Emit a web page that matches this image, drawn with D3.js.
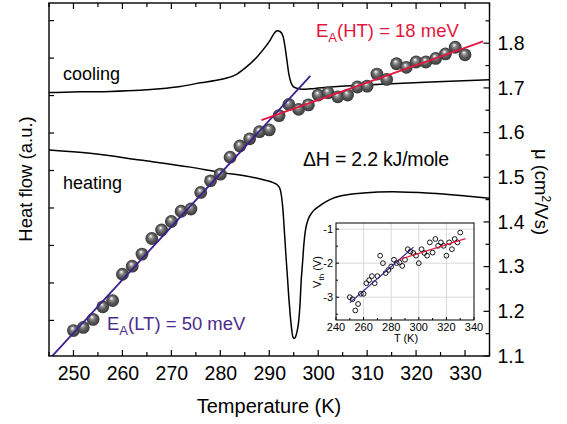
<!DOCTYPE html>
<html><head><meta charset="utf-8">
<script src="https://cdn.jsdelivr.net/npm/d3@7/dist/d3.min.js"></script>
<style>body{margin:0;background:#fff}svg{display:block;font-family:"Liberation Sans",Arial,sans-serif}</style>
</head><body>
<script>
// ---- data ----
const muT = [250,252,254,256,258,260,262,264,266,268,270,272,274,276,278,280,282,284,286,288,290,292,294,296,298,300,302,304,306,308,310,312,314,316,318,320,322,324,326,328,330];
const muVal = [1.157,1.164,1.182,1.210,1.224,1.283,1.301,1.328,1.363,1.382,1.401,1.424,1.429,1.466,1.492,1.507,1.545,1.570,1.586,1.602,1.606,1.638,1.663,1.652,1.662,1.684,1.689,1.680,1.684,1.702,1.704,1.731,1.719,1.754,1.746,1.758,1.758,1.766,1.776,1.791,1.774];
const ltFit = [[245.5,1.098],[298.4,1.727]];
const htFit = [[288.4,1.628],[333.7,1.804]];
const coolT = [245,251.4,257.5,263.6,267.7,271.8,275.9,280,283.1,285.1,287.5,289.2,290.2,291.0,291.6,292.2,292.8,293.2,293.6,294.0,294.4,294.9,295.8,296.8,298.4,302.5,312.7,323,335];
const coolHF = [7.08,7.10,7.11,7.14,7.18,7.24,7.34,7.43,7.55,7.74,8.03,8.30,8.48,8.66,8.73,8.71,8.59,8.32,7.95,7.58,7.36,7.24,7.19,7.17,7.18,7.23,7.30,7.36,7.42];
const heatT = [245,253.4,263.6,273.9,280,286.2,289.2,290.9,291.7,292.2,292.5,292.8,293.1,293.4,293.7,294.0,294.3,294.6,294.8,295.1,295.3,295.6,296.0,296.3,296.5,296.8,297.1,297.4,298.0,298.8,300.0,301.1,302.5,304.5,309.2,315.2,323,329.1,335];
const heatHF = [5.55,5.46,5.28,5.09,4.95,4.83,4.74,4.67,4.61,4.51,4.32,3.95,3.36,2.75,2.19,1.60,1.12,0.74,0.57,0.52,0.54,0.66,0.96,1.46,2.00,2.53,3.07,3.41,3.71,3.89,4.03,4.13,4.23,4.32,4.40,4.43,4.39,4.33,4.26];
const xTicks = [250,260,270,280,290,300,310,320,330];
const muTicks = [1.1,1.2,1.3,1.4,1.5,1.6,1.7,1.8];
const insetT = muT;
const insetV = [-3.0,-3.06,-3.39,-3.2,-2.9,-2.9,-2.59,-2.5,-2.38,-2.59,-2.38,-1.78,-2.0,-2.29,-2.2,-2.1,-1.9,-2.0,-1.98,-2.08,-1.9,-1.59,-1.66,-1.7,-1.78,-2.0,-1.59,-1.7,-1.78,-1.39,-1.69,-1.29,-1.49,-1.39,-1.49,-1.78,-1.39,-1.59,-1.29,-1.39,-1.1];
const insetLT = [[250.1,-3.16],[296.2,-1.53]];
const insetHT = [[285.4,-1.9],[333.8,-1.28]];
const insetXTicks = [240,260,280,300,320,340];
const insetYTicks = [-1,-2,-3];

const W=567,H=424;
const svg=d3.select("body").append("svg").attr("width",W).attr("height",H);
const L=49,R=489.5,T0=3,B=356;
const x=d3.scaleLinear().domain([245,335]).range([L,R]);
const yMu=d3.scaleLinear().domain([1.1,1.89]).range([B,T0]);
const yHF=d3.scaleLinear().domain([0.05,9.47]).range([B,T0]);

const defs=svg.append("defs");
const g=defs.append("radialGradient").attr("id","ball").attr("cx","0.5").attr("cy","0.5").attr("r","0.5").attr("fx","0.4").attr("fy","0.3");
[[0,"#ffffff"],[0.1,"#e2e2e2"],[0.3,"#909090"],[0.6,"#5c5c5c"],[1,"#383838"]].forEach(s=>g.append("stop").attr("offset",s[0]).attr("stop-color",s[1]));
defs.append("clipPath").attr("id","clip").append("rect").attr("x",L).attr("y",T0).attr("width",R-L).attr("height",B-T0);

const plot=svg.append("g").attr("clip-path","url(#clip)");
const line=d3.line().curve(d3.curveMonotoneX);
plot.append("path").attr("d",line(coolT.map((t,i)=>[x(t),yHF(coolHF[i])]))).attr("fill","none").attr("stroke","#000").attr("stroke-width",1.5);
plot.append("path").attr("d",line(heatT.map((t,i)=>[x(t),yHF(heatHF[i])]))).attr("fill","none").attr("stroke","#000").attr("stroke-width",1.5);

plot.selectAll("circle.ball").data(muT).enter().append("circle").attr("class","ball")
  .attr("cx",t=>x(t)).attr("cy",(t,i)=>yMu(muVal[i])).attr("r",6.4).attr("fill","url(#ball)");

const sl=d3.line();
plot.append("path").attr("d",sl(ltFit.map(p=>[x(p[0]),yMu(p[1])]))).attr("stroke","#3b1f8e").attr("stroke-width",1.8).attr("fill","none");
plot.append("path").attr("d",sl(htFit.map(p=>[x(p[0]),yMu(p[1])]))).attr("stroke","#e3173e").attr("stroke-width",1.8).attr("fill","none");

// axes
const minorX=d3.range(245,336,5);
svg.append("g").attr("transform",`translate(0,${B})`).call(d3.axisBottom(x).tickValues(xTicks).tickSize(0).tickPadding(10).tickFormat(d3.format("d")))
  .call(a=>{a.select(".domain").remove();a.selectAll("text").attr("font-size",19.5).attr("font-family","Liberation Sans, Arial").attr("fill","#000");});
const tk=svg.append("g").attr("stroke","#000").attr("stroke-width",1.2);
minorX.forEach(v=>{const len=(v%10===0)?6:4;
  tk.append("line").attr("x1",x(v)).attr("x2",x(v)).attr("y1",B).attr("y2",B-len);
  tk.append("line").attr("x1",x(v)).attr("x2",x(v)).attr("y1",T0).attr("y2",T0+len);});
d3.range(1,10).forEach(v=>{tk.append("line").attr("x1",L).attr("x2",L+5).attr("y1",yHF(v)).attr("y2",yHF(v));});
d3.range(1.1,1.88,0.05).forEach(v=>{const major=Math.abs(Math.round(v*10)-v*10)<1e-6;const len=major?6:4;
  tk.append("line").attr("x1",R).attr("x2",R-len).attr("y1",yMu(v)).attr("y2",yMu(v));});
svg.append("g").attr("transform",`translate(${R},0)`).call(d3.axisRight(yMu).tickValues(muTicks).tickSize(0).tickPadding(8).tickFormat(d3.format(".1f")))
  .call(a=>{a.select(".domain").remove();a.selectAll("text").attr("font-size",19.5).attr("font-family","Liberation Sans, Arial").attr("fill","#000");});
svg.append("rect").attr("x",L).attr("y",T0).attr("width",R-L).attr("height",B-T0).attr("fill","none").attr("stroke","#000").attr("stroke-width",1.4);

// labels
svg.append("text").attr("x",269).attr("y",413).attr("text-anchor","middle").attr("font-size",20).text("Temperature (K)");
svg.append("text").attr("transform","translate(32,179) rotate(-90)").attr("text-anchor","middle").attr("font-size",18.5).text("Heat flow (a.u.)");
const rl=svg.append("text").attr("transform","translate(535,192) rotate(90)").attr("text-anchor","middle").attr("font-size",18.5);
rl.append("tspan").text("μ (cm");rl.append("tspan").attr("font-size",12).attr("dy",-7).text("2");rl.append("tspan").attr("dy",7).text("/Vs)");
svg.append("text").attr("x",63).attr("y",80).attr("font-size",18).text("cooling");
svg.append("text").attr("x",63).attr("y",189).attr("font-size",18).text("heating");
svg.append("text").attr("x",303).attr("y",166).attr("font-size",19.5).attr("letter-spacing",-0.2).text("ΔH = 2.2 kJ/mole");
const ht=svg.append("text").attr("x",316).attr("y",37).attr("font-size",18.5).attr("fill","#e3173e");
ht.append("tspan").text("E");ht.append("tspan").attr("font-size",13).attr("dy",5).text("A");ht.append("tspan").attr("dy",-5).text("(HT) = 18 meV");
const lt=svg.append("text").attr("x",107).attr("y",330).attr("font-size",18.5).attr("fill","#4a2c8c");
lt.append("tspan").text("E");lt.append("tspan").attr("font-size",13).attr("dy",5).text("A");lt.append("tspan").attr("dy",-5).text("(LT) = 50 meV");

// inset
const iL=336,iR=474,iT=223,iB=320;
const xi=d3.scaleLinear().domain([240,340]).range([iL,iR]);
const yi=d3.scaleLinear().domain([-3.67,-0.82]).range([iB,iT]);
const ins=svg.append("g");
ins.append("rect").attr("x",iL).attr("y",iT).attr("width",iR-iL).attr("height",iB-iT).attr("fill","#fff");
[260,280,300,320].forEach(v=>ins.append("line").attr("x1",xi(v)).attr("x2",xi(v)).attr("y1",iT).attr("y2",iB).attr("stroke","#d8d8d8").attr("stroke-width",1));
insetYTicks.forEach(v=>ins.append("line").attr("x1",iL).attr("x2",iR).attr("y1",yi(v)).attr("y2",yi(v)).attr("stroke","#d8d8d8").attr("stroke-width",1));
ins.selectAll("circle").data(insetT).enter().append("circle").attr("cx",t=>xi(t)).attr("cy",(t,i)=>yi(insetV[i])).attr("r",2.4).attr("fill","none").attr("stroke","#000").attr("stroke-width",0.9);
ins.append("path").attr("d",sl(insetLT.map(p=>[xi(p[0]),yi(p[1])]))).attr("stroke","#3b1f8e").attr("stroke-width",1.2).attr("fill","none");
ins.append("path").attr("d",sl(insetHT.map(p=>[xi(p[0]),yi(p[1])]))).attr("stroke","#e3173e").attr("stroke-width",1.2).attr("fill","none");
insetXTicks.forEach(v=>{ins.append("line").attr("x1",xi(v)).attr("x2",xi(v)).attr("y1",iB).attr("y2",iB-3).attr("stroke","#000");
  ins.append("text").attr("x",xi(v)).attr("y",iB+11).attr("text-anchor","middle").attr("font-size",11).text(v);});
d3.range(250,340,20).forEach(v=>ins.append("line").attr("x1",xi(v)).attr("x2",xi(v)).attr("y1",iB).attr("y2",iB-2).attr("stroke","#000"));
insetYTicks.forEach(v=>{ins.append("line").attr("x1",iL).attr("x2",iL+3).attr("y1",yi(v)).attr("y2",yi(v)).attr("stroke","#000");
  ins.append("text").attr("x",iL-3).attr("y",yi(v)+4).attr("text-anchor","end").attr("font-size",11).text(v);});
[-1.5,-2.5,-3.5].forEach(v=>ins.append("line").attr("x1",iL).attr("x2",iL+2).attr("y1",yi(v)).attr("y2",yi(v)).attr("stroke","#000"));
ins.append("rect").attr("x",iL).attr("y",iT).attr("width",iR-iL).attr("height",iB-iT).attr("fill","none").attr("stroke","#000").attr("stroke-width",1);
ins.append("text").attr("x",406).attr("y",342).attr("text-anchor","middle").attr("font-size",11).text("T (K)");
const vl=ins.append("text").attr("transform","translate(321,272) rotate(-90)").attr("text-anchor","middle").attr("font-size",11);
vl.append("tspan").text("V");vl.append("tspan").attr("font-size",8).attr("dy",3).text("th");vl.append("tspan").attr("dy",-3).text(" (V)");
</script>
</body></html>
